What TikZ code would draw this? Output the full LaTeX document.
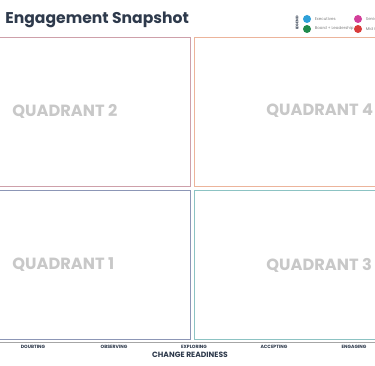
\documentclass[tikz,border=0pt]{standalone}
\usepackage{fontspec}
\setmainfont{Poppins}
\usetikzlibrary{positioning}
\definecolor{slate}{RGB}{46,58,76}
\definecolor{qtwo}{RGB}{206,160,170}
\definecolor{qfour}{RGB}{236,180,155}
\definecolor{qone}{RGB}{140,150,182}
\definecolor{qthree}{RGB}{140,195,195}
\definecolor{qtext}{RGB}{200,200,200}
\definecolor{execblue}{RGB}{46,160,216}
\definecolor{boardgreen}{RGB}{31,138,76}
\definecolor{senpink}{RGB}{211,63,154}
\definecolor{midred}{RGB}{217,58,58}
\begin{document}
\begin{tikzpicture}[x=1pt, y=-1pt,
                    line width=0.9pt,
                    font=\bfseries]
    \tikzstyle{quad}=[line width=0.9pt]
    \tikzstyle{quadlabel}=[anchor=west, inner sep=0pt, text=qtext, font=\fontsize{16.2}{17}\selectfont\bfseries]
    \tikzstyle{stage}=[inner sep=0pt, text=slate, font=\fontsize{4.6}{5}\selectfont\bfseries]
    \tikzstyle{dot}=[circle, inner sep=0pt, minimum size=8pt]
    \tikzstyle{legtext}=[anchor=west, inner sep=0pt, text=gray, font=\fontsize{4}{4}\selectfont\mdseries]

    \useasboundingbox[fill=white] (0,0) rectangle (375,366);
    \clip (0,0) rectangle (375,366);

    % title and legend
    \node[anchor=west, inner sep=0pt, text=slate, font=\fontsize{15.6}{16}\selectfont\bfseries] (title) at (5,20) {Engagement Snapshot};
    \node[rotate=90, inner sep=0pt, text=slate, font=\fontsize{3.6}{4}\selectfont\bfseries] (legend) at (297,23) {LEGEND};
    \node[dot, fill=execblue] (exec) at (307,19) {};
    \node[dot, fill=boardgreen] (board) at (307,29) {};
    \node[dot, fill=senpink] (senior) at (358,19) {};
    \node[dot, fill=midred] (mid) at (358,29) {};
    \node[legtext, right=3pt of exec] {Executives};
    \node[legtext, right=3pt of board] {Board + Leadership};
    \node[legtext, right=3pt of senior] {Senior Leaders};
    \node[legtext, right=3pt of mid] {Mid Career};

    % quadrants
    \draw[quad, qtwo] (-2,37) rectangle (190,186);
    \draw[quad, qfour] (194,37) rectangle (378,186);
    \draw[quad, qone] (-2,190) rectangle (190,339);
    \draw[quad, qthree] (194,190) rectangle (378,339);
    \node[quadlabel] (q2) at (12,111) {QUADRANT 2};
    \node[quadlabel] (q4) at (266,111) {QUADRANT 4};
    \node[quadlabel] (q1) at (12,265) {QUADRANT 1};
    \node[quadlabel] (q3) at (266,265) {QUADRANT 3};

    % readiness axis
    \draw[gray!70, line width=0.8pt] (0,342) -- (375,342);
    \foreach \x/\s in {33/DOUBTING, 114/OBSERVING, 194/EXPLORING, 274/ACCEPTING, 354/ENGAGING}
        \node[stage] at (\x,346.5) {\s};
    \node[inner sep=0pt, text=slate, font=\fontsize{7.6}{8}\selectfont\bfseries] (axis) at (190,354.5) {CHANGE READINESS};
\end{tikzpicture}
\end{document}
